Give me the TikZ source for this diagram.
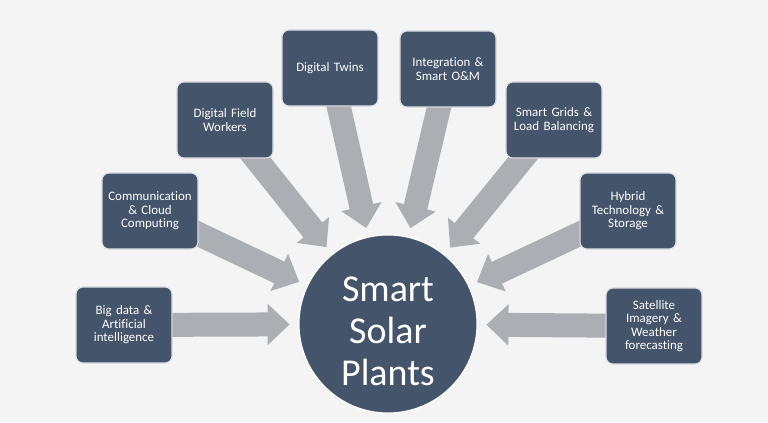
\documentclass[tikz,border=0pt]{standalone}
\usepackage{fontspec}
\setmainfont{Carlito}[Ligatures=NoCommon]
\usetikzlibrary{arrows.meta,backgrounds}
\definecolor{slate}{HTML}{44546A}
\definecolor{arrowgray}{HTML}{ABAEB2}
\definecolor{paper}{HTML}{F4F4F4}
\definecolor{rim}{HTML}{DCDFE4}

\tikzset{
  topic/.style={draw=rim, line width=0.8pt, fill=slate, text=white,
    rounded corners=5pt, minimum width=2.4cm, minimum height=1.9cm,
    text width=2.2cm, inner sep=1pt, align=center,
    font=\fontsize{9.2}{9.6}\selectfont},
  hub/.style={circle, draw=white, line width=0.8pt, fill=slate, text=white,
    minimum size=4.45cm, align=center, font=\fontsize{27}{30}\selectfont},
  feed/.style={draw=arrowgray, line width=0.6cm,
    -{Triangle[width=1cm,length=0.55cm]}, shorten >=0.22cm}
}

\begin{document}
\begin{tikzpicture}[x=0.025cm,y=-0.025cm]
   \useasboundingbox (0,0) rectangle (768,422);
   % centre
   \node[hub] (ssp) at (388,324) {\rule{0pt}{28pt}Smart\\Solar\\Plants};
   % topics round the centre
   \node[topic] (bigdata)   at (124,325) {Big data \&\\Artificial\\intelligence};
   \node[topic] (cloud)     at (150,211) {Communication\\\& Cloud\\Computing};
   \node[topic] (workers)   at (225,120) {Digital Field\\Workers};
   \node[topic] (twins)     at (330,68)  {Digital Twins};
   \node[topic] (om)        at (448,69)  {Integration \&\\Smart O\&M};
   \node[topic] (grids)     at (554,120) {Smart Grids \&\\Load Balancing};
   \node[topic] (hybrid)    at (628,211) {Hybrid\\Technology \&\\Storage};
   \node[topic] (satellite) at (654,326) {Satellite\\Imagery \&\\Weather\\forecasting};
   \begin{scope}[on background layer]
      \fill[paper] (0,0) rectangle (768,422);
      \foreach \src in {bigdata,cloud,workers,twins,om,grids,hybrid,satellite}
         \draw[feed] (\src.center) -- (ssp);
   \end{scope}
\end{tikzpicture}
\end{document}
